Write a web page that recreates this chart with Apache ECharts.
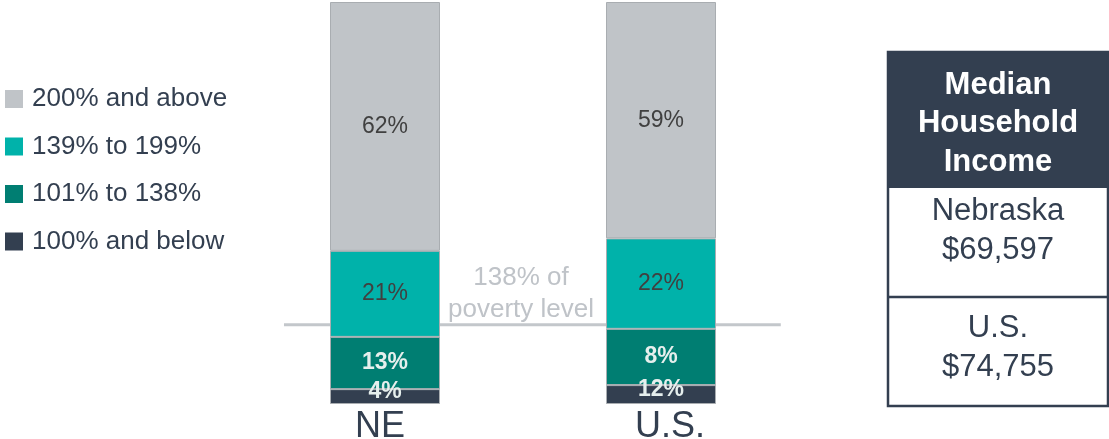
<!DOCTYPE html>
<html>
<head>
<meta charset="utf-8">
<script src="https://cdn.jsdelivr.net/npm/echarts@6/dist/echarts.min.js"></script>
<style>
  html, body { margin: 0; padding: 0; background: #ffffff; }
  #chart { width: 1109px; height: 439px; }
</style>
</head>
<body>
<div id="chart"></div>
<script>
// ---- data ----
const categories = ['NE', 'U.S.'];
const seriesNames = ['100% and below', '101% to 138%', '139% to 199%', '200% and above'];
// segment heights (percent of bar)
const below100 = [3.7, 4.7];
const pct101to138 = [13.0, 14.0];
const pct139to199 = [21.4, 22.5];
const above200 = [61.9, 58.8];
// printed labels (as shown on the chart)
const labelsBelow100 = ['4%', '12%'];
const labels101to138 = ['13%', '8%'];
const labels139to199 = ['21%', '22%'];
const labelsAbove200 = ['62%', '59%'];
// poverty reference line (value on y axis) and its horizontal extent (fraction of plot width)
const povertyLevel = 19.7;
const povertyLineExtent = [0.067, 0.967];
// table
const tableHeader = 'Median\nHousehold\nIncome';
const tableRows = ['Nebraska\n$69,597', 'U.S.\n$74,755'];

const FONT = 'Arial, "Liberation Sans", sans-serif';
const NAVY = '#333f50';
const colors = [NAVY, '#007e72', '#00b2aa', '#c0c4c8'];
const values = [below100, pct101to138, pct139to199, above200];
const labels = [labelsBelow100, labels101to138, labels139to199, labelsAbove200];
const categoryLabelPadding = [[0, 10, 0, 0], [0, 0, 0, 18]];

const chart = echarts.init(document.getElementById('chart'), null, { renderer: 'canvas' });

const barSeries = seriesNames.map((name, i) => ({
  name: name,
  type: 'bar',
  stack: 'total',
  xAxisIndex: 0,
  barWidth: 110,
  z: 3,
  data: values[i],
  itemStyle: { color: colors[i], borderColor: '#a9adb1', borderWidth: 1 },
  label: {
    show: true,
    position: 'inside',
    offset: i === 0 ? [0, -5] : [0, 0],
    fontFamily: FONT,
    fontSize: 23,
    fontWeight: i < 2 ? 'bold' : 'normal',
    color: i < 2 ? '#e6efed' : '#404040',
    formatter: (p) => labels[i][p.dataIndex]
  },
  emphasis: { disabled: true }
}));

const lineSeries = {
  name: 'poverty',
  type: 'line',
  xAxisIndex: 1,
  yAxisIndex: 0,
  z: 1,
  symbol: 'none',
  silent: true,
  lineStyle: { color: '#c3c7cb', width: 3 },
  data: povertyLineExtent.map(x => [x, povertyLevel])
};

const option = {
  animation: false,
  backgroundColor: '#ffffff',
  legend: {
    data: seriesNames.slice().reverse(),
    orient: 'vertical',
    left: 5,
    top: 86,
    padding: 0,
    icon: 'rect',
    itemWidth: 18,
    itemHeight: 18,
    itemGap: 21.5,
    itemStyle: { borderWidth: 0 },
    selectedMode: false,
    textStyle: { fontFamily: FONT, fontSize: 26, color: NAVY, lineHeight: 26, padding: [0, 0, 0, 4] }
  },
  grid: { left: 247, width: 552, top: 2, height: 402, containLabel: false, outerBoundsMode: 'none' },
  xAxis: [
    {
      type: 'category',
      data: categories.map((c, i) => ({ value: c, textStyle: { padding: categoryLabelPadding[i] } })),
      axisLine: { show: false },
      axisTick: { show: false },
      axisLabel: { fontFamily: FONT, fontSize: 36, color: NAVY, margin: 5 }
    },
    { type: 'value', min: 0, max: 1, show: false }
  ],
  yAxis: { type: 'value', min: 0, max: 100, show: false },
  series: barSeries.concat([lineSeries]),
  graphic: [
    {
      type: 'text', x: 521, y: 293.5, z: 5,
      style: {
        text: '138% of\npoverty level', fontFamily: FONT, fontSize: 26, fill: '#bfc3c8',
        align: 'center', verticalAlign: 'middle', lineHeight: 32
      }
    },
    // table
    { type: 'rect', shape: { x: 888, y: 52, width: 220, height: 136 }, style: { fill: NAVY }, z: 5 },
    { type: 'rect', shape: { x: 888, y: 52, width: 220, height: 354 }, style: { fill: 'none', stroke: NAVY, lineWidth: 2.5 }, z: 6 },
    { type: 'line', shape: { x1: 888, y1: 297, x2: 1108, y2: 297 }, style: { stroke: NAVY, lineWidth: 2.5 }, z: 6 },
    {
      type: 'text', x: 998, y: 123.5, z: 7,
      style: { text: tableHeader, fontFamily: FONT, fontSize: 31, fontWeight: 'bold', fill: '#ffffff',
        align: 'center', verticalAlign: 'middle', lineHeight: 38.5 }
    },
    {
      type: 'text', x: 998, y: 230.5, z: 7,
      style: { text: tableRows[0], fontFamily: FONT, fontSize: 31, fill: NAVY,
        align: 'center', verticalAlign: 'middle', lineHeight: 39 }
    },
    {
      type: 'text', x: 998, y: 347.5, z: 7,
      style: { text: tableRows[1], fontFamily: FONT, fontSize: 31, fill: NAVY,
        align: 'center', verticalAlign: 'middle', lineHeight: 39 }
    }
  ]
};

chart.setOption(option);
</script>
</body>
</html>
